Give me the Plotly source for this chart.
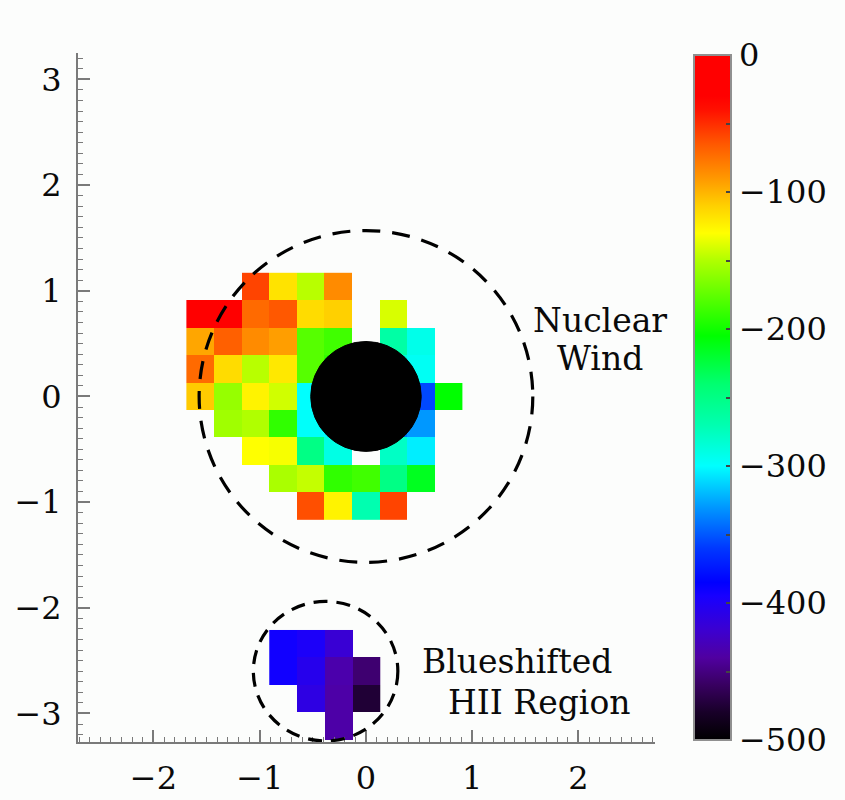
import numpy as np
import plotly.graph_objects as go

# Velocity map (km/s) on a 0.26" spaxel grid
N = None
cell = 0.26

# Nuclear region: columns and rows of spaxel centres (arcsec)
nuc_x = [-1.56, -1.30, -1.04, -0.78, -0.52, -0.26, 0.00, 0.26, 0.52, 0.78]
nuc_y = [1.04, 0.78, 0.52, 0.26, 0.00, -0.26, -0.52, -0.78, -1.04]
nuc_v = [
    [N,    N,    -58,  -118, -148, -85,  N,    N,    N,    N],
    [-22,  -30,  -72,  -65,  -115, -110, N,    -140, N,    N],
    [-95,  -68,  -85,  -92,  -178, -185, N,    -265, -292, N],
    [-72,  -115, -148, -120, -178, -190, N,    -285, -296, N],
    [-108, -158, -125, -142, -300, N,    N,    N,    -355, -205],
    [N,    -155, -150, -190, -298, -300, N,    -340, -330, N],
    [N,    N,    -130, -132, -250, -290, N,    -278, -305, N],
    [N,    N,    N,    -152, -145, -190, -185, -250, -215, N],
    [N,    N,    N,    N,    -62,  -125, -270, -58,  N,    N],
]

# Blueshifted HII region
hii_x = [-0.78, -0.52, -0.26, 0.00]
hii_y = [-2.34, -2.60, -2.86, -3.12]
hii_v = [
    [-392, -398, -418, N],
    [-392, -405, -435, -455],
    [N,    -410, -437, -475],
    [N,    N,    -437, N],
]

# Colour bar ticks
cbar_vals = [0, -50, -100, -150, -200, -250, -300, -350, -400, -450, -500]
cbar_text = ["0", "", "−100", "", "−200", "", "−300", "", "−400", "", "−500"]

rainbow = [
    [0.00, "#000000"], [0.04, "#180028"], [0.08, "#380060"], [0.12, "#5000A0"],
    [0.16, "#3C00D0"], [0.21, "#1800FF"], [0.23, "#0000FF"], [0.28, "#0038FF"],
    [0.34, "#0098FF"], [0.40, "#00FFFF"], [0.46, "#00FFB0"], [0.52, "#00FF70"],
    [0.59, "#00FF00"], [0.64, "#50FF00"], [0.70, "#B0FF00"], [0.74, "#FFFF00"],
    [0.78, "#FFD000"], [0.82, "#FF9800"], [0.87, "#FF5800"], [0.92, "#FF1000"],
    [0.94, "#FF0000"], [1.00, "#FF0000"],
]

FONT = "DejaVu Serif"
TXT = "#0a0a0a"
AX = "#7a7a7a"

fig = go.Figure()
fig.add_trace(go.Heatmap(x=nuc_x, y=nuc_y, z=nuc_v, coloraxis="coloraxis",
                         hoverongaps=False))
fig.add_trace(go.Heatmap(x=hii_x, y=hii_y, z=hii_v, coloraxis="coloraxis",
                         hoverongaps=False))

# Nucleus mask and the two aperture outlines
fig.add_shape(type="circle", x0=-0.52, x1=0.52, y0=-0.52, y1=0.52,
              fillcolor="black", line=dict(color="black", width=1))
fig.add_shape(type="circle", x0=-1.57, x1=1.57, y0=-1.57, y1=1.57,
              line=dict(color="black", width=3.2, dash="18px,12px"))
fig.add_shape(type="circle", x0=-0.38 - 0.68, x1=-0.38 + 0.68,
              y0=-2.6 - 0.66, y1=-2.6 + 0.66,
              line=dict(color="black", width=3.2, dash="14px,9px"))

for text, x, y in [("Nuclear", 1.55, 0.72), ("Wind", 1.78, 0.36),
                   ("Blueshifted", 0.51, -2.51), ("HII Region", 0.75, -2.90)]:
    fig.add_annotation(x=x, y=y, text=text, showarrow=False, xanchor="left",
                       yanchor="middle", font=dict(family=FONT, size=33, color=TXT))

axis_common = dict(
    showgrid=False, zeroline=False, showline=True, linecolor=AX, linewidth=2,
    ticks="inside", ticklen=12, tickwidth=1.5, tickcolor=AX,
    tickfont=dict(family=FONT, size=32, color=TXT),
    minor=dict(ticks="inside", ticklen=5, tickwidth=1.2, tickcolor=AX, dtick=0.1),
    mirror=False,
)

fig.update_layout(
    width=845, height=800,
    margin=dict(l=78, r=190, t=53, b=58, autoexpand=False),
    paper_bgcolor="#fcfdfc", plot_bgcolor="#fcfdfc",
    xaxis=dict(range=[-2.71, 2.72], tickvals=[-2, -1, 0, 1, 2],
               ticklabelstandoff=7, **axis_common),
    yaxis=dict(range=[-3.27, 3.25], tickvals=[-3, -2, -1, 0, 1, 2, 3],
               ticklabelstandoff=8, **axis_common),
    coloraxis=dict(
        colorscale=rainbow, cmin=-500, cmax=0,
        colorbar=dict(
            x=1.0676, xanchor="left", y=0.997, yanchor="top",
            len=685, lenmode="pixels", thickness=37, xpad=0, ypad=0,
            outlinecolor="#909090", outlinewidth=2,
            tickvals=cbar_vals, ticktext=cbar_text,
            ticks="inside", ticklen=6, tickcolor="#444", tickwidth=1.5,
            tickfont=dict(family=FONT, size=32, color=TXT),
        ),
    ),
    showlegend=False,
)

fig.write_html("out.html")
